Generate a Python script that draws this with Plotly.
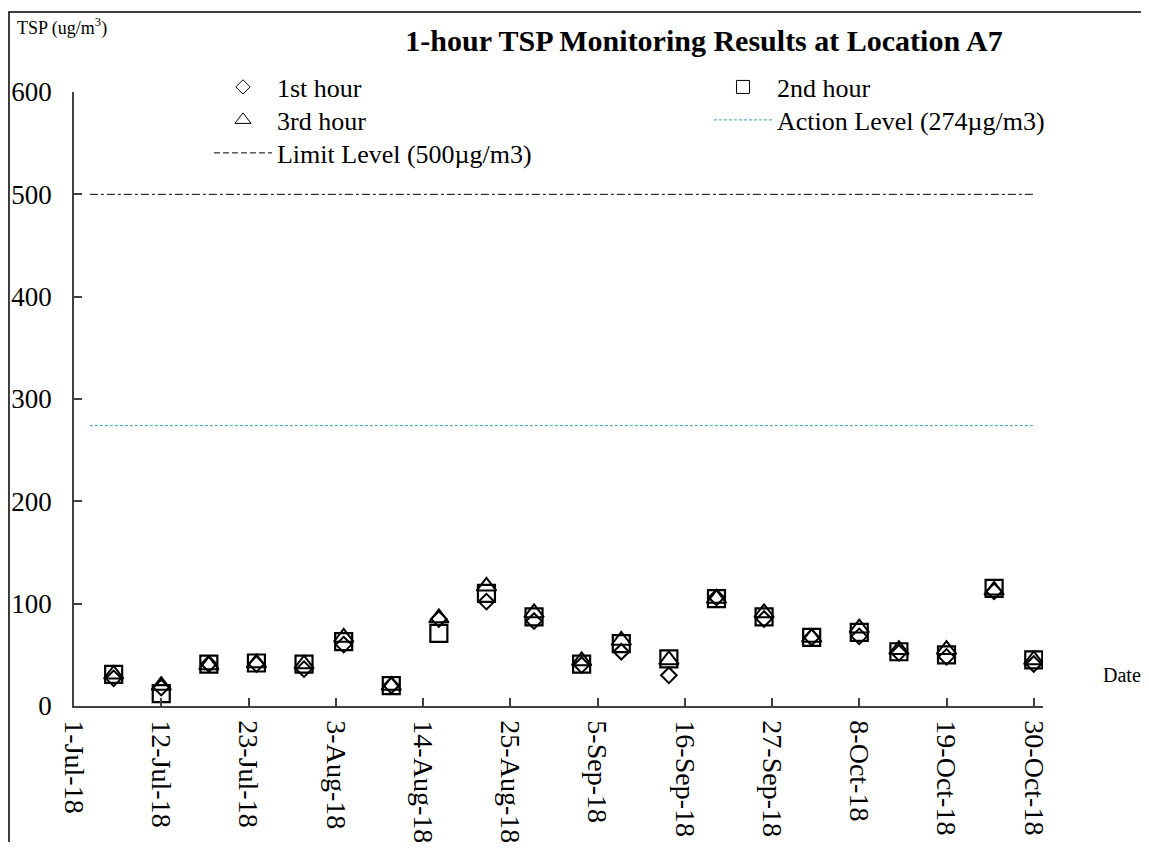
import plotly.graph_objects as go

# ---- data ---------------------------------------------------------------
dates = ["2018-07-06", "2018-07-12", "2018-07-18", "2018-07-24", "2018-07-30",
         "2018-08-04", "2018-08-10", "2018-08-16", "2018-08-22", "2018-08-28",
         "2018-09-03", "2018-09-08", "2018-09-14", "2018-09-20", "2018-09-26",
         "2018-10-02", "2018-10-08", "2018-10-13", "2018-10-19", "2018-10-25",
         "2018-10-30"]
hour1 = [27, 18, 41, 41, 36, 60, 20, 85, 102, 83, 40, 53, 30, 106, 85, 67, 68, 52, 48, 112, 41]
hour2 = [31, 12, 41, 42, 41, 63, 20, 71, 110, 87, 41, 61, 46, 105, 87, 67, 72, 53, 50, 115, 45]
hour3 = [31, 20, 40, 42, 41, 67, 20, 86, 117, 91, 44, 64, 45, 105, 91, 67, 76, 55, 55, 113, 45]

level_dates = ["2018-07-03", "2018-10-30"]
limit_level = [500, 500]
action_level = [274, 274]

y_ticks = [0, 100, 200, 300, 400, 500, 600]

FONT = "Liberation Serif, Times New Roman, serif"
TEAL = "#3a9fae"

fig = go.Figure()

# ---- guide lines ---------------------------------------------------------
fig.add_trace(go.Scatter(x=level_dates, y=limit_level, mode="lines",
                         line=dict(color="#000000", width=1, dash="8px,3px,3px,3px"),
                         showlegend=False, hoverinfo="skip"))
fig.add_trace(go.Scatter(x=level_dates, y=action_level, mode="lines",
                         line=dict(color=TEAL, width=1, dash="3px,2px"),
                         showlegend=False, hoverinfo="skip"))

# ---- data points ---------------------------------------------------------
fig.add_trace(go.Scatter(x=dates, y=hour1, mode="markers", name="1st hour",
                         marker=dict(symbol="diamond-open", size=12, color="#000000",
                                     line=dict(width=2, color="#000000")),
                         showlegend=False))
fig.add_trace(go.Scatter(x=dates, y=hour2, mode="markers", name="2nd hour",
                         marker=dict(symbol="square-open", size=17, color="#000000",
                                     line=dict(width=2.2, color="#000000")),
                         showlegend=False))
fig.add_trace(go.Scatter(x=dates, y=hour3, mode="markers", name="3rd hour",
                         marker=dict(symbol="triangle-up-open", size=17, color="#000000",
                                     line=dict(width=2, color="#000000")),
                         showlegend=False))

# ---- legend entries: one small legend per slot ---------------------------
def _leg(name, legend, **kw):
    fig.add_trace(go.Scatter(x=[None], y=[None], name=name, legend=legend, **kw))

_leg("1st hour", "legend", mode="markers",
     marker=dict(symbol="diamond-open", size=11, color="#000", line=dict(width=1)))
_leg("3rd hour", "legend2", mode="markers",
     marker=dict(symbol="triangle-up-open", size=14, color="#000", line=dict(width=1)))
_leg("Limit Level (500µg/m3)", "legend3", mode="lines",
     line=dict(color="#000000", width=1, dash="6px,3px"))
_leg("2nd hour", "legend4", mode="markers",
     marker=dict(symbol="square-open", size=13, color="#000", line=dict(width=1)))
_leg("Action Level (274µg/m3)", "legend5", mode="lines",
     line=dict(color=TEAL, width=1, dash="3px,2px"))

_LEG = dict(orientation="h", xanchor="left", yanchor="middle",
            font=dict(family=FONT, size=26, color="#000000"),
            bgcolor="rgba(0,0,0,0)", borderwidth=0, itemwidth=58)

COL1, COL2 = 0.1393, 0.6553
ROW1, ROW2, ROW3 = 1.0081, 0.9544, 0.9007

fig.update_layout(
    width=1133, height=834,
    paper_bgcolor="#ffffff", plot_bgcolor="#ffffff",
    margin=dict(l=66, r=98, t=84, b=136, autoexpand=False),
    font=dict(family=FONT, color="#000000"),
    title=dict(text="<b>1-hour TSP Monitoring Results at Location A7</b>",
               x=0.6143, xanchor="center", y=0.9616, yanchor="middle",
               font=dict(family=FONT, size=30, color="#000000")),
    legend=dict(**_LEG, x=COL1, y=ROW1),
    legend2=dict(**_LEG, x=COL1, y=ROW2),
    legend3=dict(**_LEG, x=COL1, y=ROW3),
    legend4=dict(**_LEG, x=COL2, y=ROW1),
    legend5=dict(**_LEG, x=COL2, y=ROW2),
    xaxis=dict(
        type="date", automargin=False,
        range=["2018-07-01", "2018-10-31 04:00"],
        tick0="2018-07-01", dtick=11 * 86400000,
        tickformat="%-d-%b-%y", tickangle=90,
        ticks="inside", ticklen=8, tickcolor="#404040", tickwidth=1.5,
        showline=True, linecolor="#404040", linewidth=1.5,
        showgrid=False, zeroline=False,
        tickfont=dict(family=FONT, size=28, color="#000000"),
        ticklabelstandoff=7,
    ),
    yaxis=dict(
        range=[0, 600], tickvals=y_ticks, automargin=False,
        ticks="inside", ticklen=8, tickcolor="#404040", tickwidth=1.5,
        showline=True, linecolor="#404040", linewidth=1.5,
        showgrid=False, zeroline=False,
        tickfont=dict(family=FONT, size=27, color="#000000"),
        ticklabelstandoff=15,
    ),
    showlegend=True,
)

# outer frame (left and top edges visible)
fig.add_shape(type="rect", xref="paper", yref="paper",
              x0=-0.0671, x1=1.3, y0=-0.4, y1=1.1303,
              line=dict(color="#000000", width=1.5), fillcolor="rgba(0,0,0,0)",
              layer="below")

fig.add_annotation(text="TSP (ug/m<sup>3</sup>)", xref="paper", yref="paper",
                   x=-0.0609, y=1.1060, xanchor="left", yanchor="middle",
                   showarrow=False, font=dict(family=FONT, size=18, color="#000000"))
fig.add_annotation(text="Date", xref="paper", yref="paper",
                   x=1.0815, y=0.05, xanchor="center", yanchor="middle",
                   showarrow=False, font=dict(family=FONT, size=20, color="#000000"))

fig.write_html("out.html")
